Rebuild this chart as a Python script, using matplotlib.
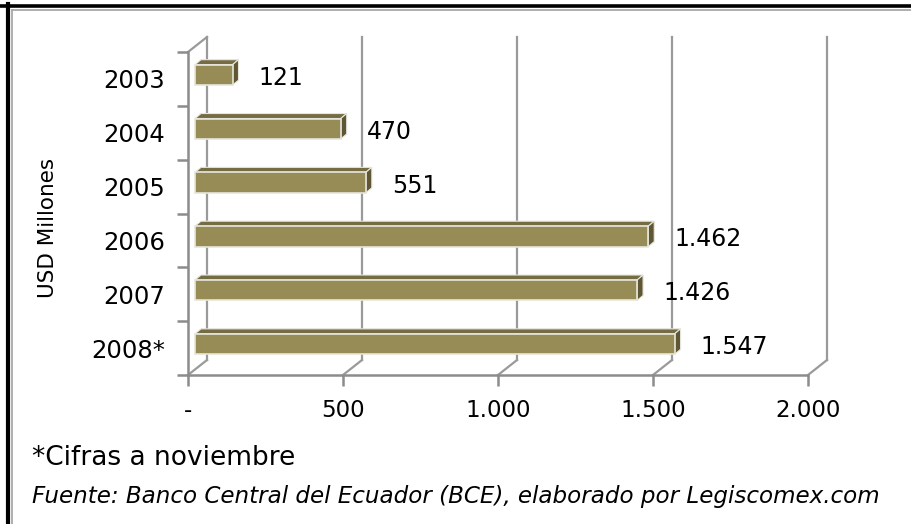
import matplotlib
matplotlib.use("Agg")
import matplotlib.pyplot as plt
from matplotlib.patches import Polygon
from matplotlib.lines import Line2D
from matplotlib.transforms import ScaledTranslation

# ---- data ----
years = ["2003", "2004", "2005", "2006", "2007", "2008*"]
values = [121, 470, 551, 1462, 1426, 1547]
value_labels = ["121", "470", "551", "1.462", "1.426", "1.547"]
x_ticks = [0, 500, 1000, 1500, 2000]
x_tick_labels = ["-", "500", "1.000", "1.500", "2.000"]
y_label = "USD Millones"
note1 = "*Cifras a noviembre"
note2 = "Fuente: Banco Central del Ecuador (BCE), elaborado por Legiscomex.com"

W, H, DPI = 911, 524, 100
fig = plt.figure(figsize=(W / DPI, H / DPI), dpi=DPI)
fig.patch.set_facecolor("white")

# axes: front frame from x=188..808 px, y=52..375 px (image coords)
L, R, T, B = 188, 808, 52, 375
ax = fig.add_axes([L / W, (H - B) / H, (R - L) / W, (B - T) / H])
ax.set_xlim(0, 2000)
ax.set_ylim(len(years) - 0.5, -0.5)
ax.patch.set_alpha(0)

grid_c = "#9a9a9a"
def off(dx, dy):
    # dx, dy in pixels, image coords (dy positive = down)
    return ax.transData + ScaledTranslation(dx / DPI, -dy / DPI, fig.dpi_scale_trans)

DX, DY = 19, -15  # depth offset of the back wall
back = off(DX, DY)
ymin, ymax = -0.5, len(years) - 0.5

# back wall verticals (gridlines) incl. left back edge
for xv in x_ticks:
    ax.add_line(Line2D([xv, xv], [ymax, ymin], transform=back, color=grid_c, lw=1.6,
                       zorder=1, clip_on=False))
# floor diagonals
for xv in x_ticks:
    ax.add_line(Line2D([xv, xv], [ymax, ymax], transform=ax.transData, lw=0))
    p0 = ax.transData.transform((xv, ymax))
    ax.add_line(Line2D([p0[0], p0[0] + DX], [p0[1], p0[1] - DY], transform=None,
                       color=grid_c, lw=1.6, zorder=1, clip_on=False))
# top-left diagonal of left wall
p0 = ax.transData.transform((0, ymin))
ax.add_line(Line2D([p0[0], p0[0] + DX], [p0[1], p0[1] - DY], transform=None,
                   color=grid_c, lw=1.6, zorder=1, clip_on=False))

# ---- bars with pseudo 3D ----
bh = 0.38
bx, by = 7, -4        # bar front face offset from front plane
ddx, ddy = 6, -5      # bar depth
front_t = off(bx, by)
depth_t = off(bx + ddx, by + ddy)
face_c, top_c, side_c, edge_c = "#978C56", "#756C44", "#5F5734", "#E6E6DC"
for i, v in enumerate(values):
    y0, y1 = i - bh / 2, i + bh / 2
    # top face
    pf = front_t.transform([(0, y0), (v, y0)])
    pb = depth_t.transform([(v, y0), (0, y0)])
    ax.add_patch(Polygon(list(pf) + list(pb), closed=True, transform=None,
                         facecolor=top_c, edgecolor=edge_c, lw=0.8, zorder=3, clip_on=False))
    # side face
    sf = front_t.transform([(v, y0), (v, y1)])
    sb = depth_t.transform([(v, y1), (v, y0)])
    ax.add_patch(Polygon(list(sf) + list(sb), closed=True, transform=None,
                         facecolor=side_c, edgecolor=edge_c, lw=0.8, zorder=3, clip_on=False))
    # front face
    ax.barh(i, v, height=bh, left=0, color=face_c, edgecolor=edge_c, lw=1.2,
            transform=front_t, zorder=4, clip_on=False)
    ax.text(v, i, value_labels[i], transform=off(bx + 26, -1), ha="left", va="center",
            fontsize=17, color="black", zorder=5)

# ---- front axes ----
for s in ["top", "right"]:
    ax.spines[s].set_visible(False)
for s in ["bottom", "left"]:
    ax.spines[s].set_color("#8c8c8c")
    ax.spines[s].set_linewidth(1.8)
ax.set_xticks(x_ticks)
ax.set_xticklabels(x_tick_labels, fontsize=16.5)
ax.set_yticks(range(len(years)))
ax.set_yticklabels(years, fontsize=17.5)
ax.set_yticks([k - 0.5 for k in range(len(years) + 1)], minor=True)
ax.tick_params(axis="x", length=8, width=1.8, color="#8c8c8c", pad=9)
ax.tick_params(axis="y", which="major", length=0, pad=16.5)
ax.tick_params(axis="y", which="minor", length=8, width=1.8, color="#8c8c8c")
ax.set_ylabel(y_label, fontsize=15.5)
ax.yaxis.set_label_coords((58 - L) / (R - L), (B - 228) / (B - T))

# ---- notes ----
fig.text(32 / W, 1 - 458 / H, note1, fontsize=19, va="center", ha="left")
fig.text(32 / W, 1 - 497 / H, note2, fontsize=16.6, style="italic", va="center", ha="left")

# ---- outer frame (top and left visible) ----
fig.add_artist(Line2D([0, 1], [1 - 5.5 / H] * 2, transform=fig.transFigure, color="black", lw=2.6))
fig.add_artist(Line2D([7.5 / W] * 2, [0, 1 - 4 / H], transform=fig.transFigure, color="black", lw=3))
fig.add_artist(Line2D([12 / W, 1], [1 - 9.5 / H] * 2, transform=fig.transFigure, color="#a8a8a8", lw=1.3))
fig.add_artist(Line2D([12 / W] * 2, [0, 1 - 9.5 / H], transform=fig.transFigure, color="#a8a8a8", lw=1.3))

fig.savefig("out.png", dpi=DPI)
